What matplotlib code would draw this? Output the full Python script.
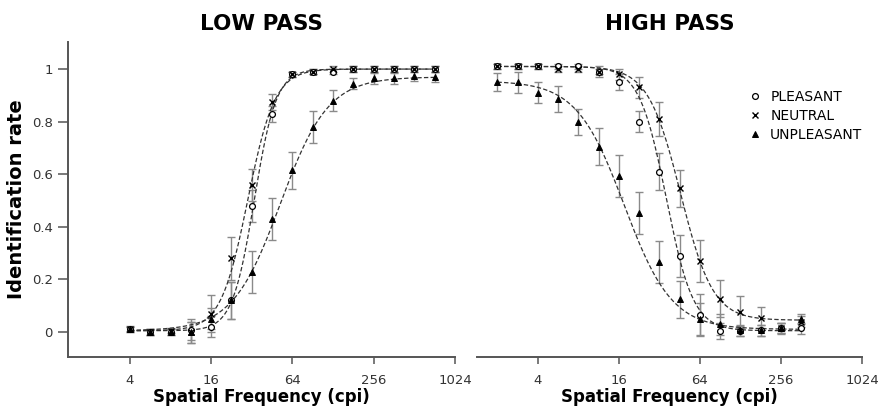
import numpy as np
import matplotlib
matplotlib.use("Agg")
import matplotlib.pyplot as plt
from matplotlib.lines import Line2D

# ---------------- data ----------------
lp_x = [4, 5.66, 8, 11.3, 16, 22.6, 32, 45.3, 64, 90.5, 128, 181, 256, 362, 512, 724]
lp_pleasant = [0.013, 0.0, 0.0, 0.008, 0.02, 0.12, 0.48, 0.83, 0.98, 0.99, 0.99, 1.0, 1.0, 1.0, 1.0, 1.0]
lp_pleasant_err = [0.01, 0.01, 0.01, 0.04, 0.04, 0.07, 0.06, 0.03, 0.01, 0.01, 0.01, 0.01, 0.01, 0.01, 0.01, 0.01]
lp_neutral = [0.01, 0.0, 0.005, 0.0, 0.07, 0.28, 0.56, 0.875, 0.98, 0.99, 1.0, 1.0, 1.0, 1.0, 1.0, 1.0]
lp_neutral_err = [0.01, 0.01, 0.01, 0.04, 0.07, 0.083, 0.06, 0.03, 0.01, 0.01, 0.01, 0.01, 0.01, 0.01, 0.01, 0.01]
lp_unpleasant = [0.01, 0.0, 0.0, 0.0, 0.05, 0.12, 0.23, 0.43, 0.615, 0.78, 0.88, 0.945, 0.965, 0.965, 0.975, 0.97]
lp_unpleasant_err = [0.01, 0.01, 0.01, 0.04, 0.04, 0.07, 0.08, 0.08, 0.07, 0.06, 0.04, 0.02, 0.02, 0.02, 0.02, 0.02]

hp_x = [2, 2.83, 4, 5.66, 8, 11.3, 16, 22.6, 32, 45.3, 64, 90.5, 128, 181, 256, 362]
hp_pleasant = [1.01, 1.01, 1.01, 1.01, 1.01, 0.99, 0.95, 0.80, 0.61, 0.29, 0.065, 0.004, 0.004, 0.006, 0.016, 0.014]
hp_pleasant_err = [0.01, 0.01, 0.01, 0.01, 0.01, 0.02, 0.03, 0.04, 0.07, 0.08, 0.08, 0.03, 0.02, 0.02, 0.02, 0.02]
hp_neutral = [1.01, 1.01, 1.01, 1.0, 1.0, 0.99, 0.98, 0.93, 0.81, 0.547, 0.27, 0.127, 0.076, 0.055, 0.014, 0.04]
hp_neutral_err = [0.01, 0.01, 0.01, 0.01, 0.01, 0.01, 0.02, 0.04, 0.065, 0.07, 0.08, 0.07, 0.06, 0.04, 0.02, 0.02]
hp_unpleasant = [0.95, 0.95, 0.91, 0.885, 0.80, 0.705, 0.595, 0.453, 0.265, 0.125, 0.05, 0.03, 0.006, 0.006, 0.016, 0.05]
hp_unpleasant_err = [0.035, 0.04, 0.04, 0.05, 0.05, 0.07, 0.08, 0.08, 0.08, 0.07, 0.06, 0.04, 0.02, 0.02, 0.02, 0.02]

# fitted psychometric functions: (lower, upper, midpoint log2(cpi), slope per octave)
lp_fit = {"PLEASANT": (0.005, 1.0, 5.06, 3.7),
          "NEUTRAL": (0.005, 1.0, 4.90, 3.0),
          "UNPLEASANT": (0.005, 0.97, 5.70, 1.7)}
hp_fit = {"PLEASANT": (0.005, 1.01, 5.17, -3.0),
          "NEUTRAL": (0.045, 1.01, 5.52, -2.5),
          "UNPLEASANT": (0.01, 0.955, 4.13, -1.7)}

xticks = [4, 16, 64, 256, 1024]
yticks = [0, 0.2, 0.4, 0.6, 0.8, 1]
ytick_labels = ["0", "0.2", "0.4", "0.6", "0.8", "1"]

markers = {"PLEASANT": dict(marker="o", mfc="white", mec="black", ms=4.2, mew=0.9),
           "NEUTRAL": dict(marker="x", mfc="black", mec="black", ms=4.8, mew=1.0),
           "UNPLEASANT": dict(marker="^", mfc="black", mec="black", ms=4.6, mew=0.7)}


def logistic(x, lo, hi, m, k):
    return lo + (hi - lo) / (1 + np.exp(-k * (np.log2(x) - m)))


fig = plt.figure(figsize=(8.79, 4.08), dpi=100)
W, H = 879, 408
axL = fig.add_axes([68 / W, (H - 357) / H, 387 / W, 315 / H])
axR = fig.add_axes([477 / W, (H - 357) / H, 385 / W, 315 / H])

spine_col = "#555555"
err_col = "#8a8a8a"

panels = [
    (axL, lp_x, [("PLEASANT", lp_pleasant, lp_pleasant_err),
                 ("NEUTRAL", lp_neutral, lp_neutral_err),
                 ("UNPLEASANT", lp_unpleasant, lp_unpleasant_err)], lp_fit, "LOW PASS", 1.39),
    (axR, hp_x, [("PLEASANT", hp_pleasant, hp_pleasant_err),
                 ("NEUTRAL", hp_neutral, hp_neutral_err),
                 ("UNPLEASANT", hp_unpleasant, hp_unpleasant_err)], hp_fit, "HIGH PASS", 1.41),
]

for ax, xs, series, fits, title, xmin in panels:
    xx = np.logspace(np.log2(min(xs)), np.log2(max(xs)), 300, base=2)
    for name, ys, es in series:
        ax.errorbar(xs, ys, yerr=es, fmt="none", ecolor=err_col, elinewidth=1.0,
                    capsize=3.2, capthick=1.0, zorder=2)
        lo, hi, m, k = fits[name]
        ax.plot(xx, logistic(xx, lo, hi, m, k), color="#333333", lw=0.9,
                ls=(0, (3.5, 1.8)), zorder=3)
        ax.plot(xs, ys, ls="none", zorder=4, **markers[name])
    ax.set_xscale("log", base=2)
    ax.set_xlim(xmin, 1024)
    ax.set_ylim(-0.095, 1.103)
    ax.set_xticks(xticks)
    ax.set_xticklabels([str(t) for t in xticks])
    ax.minorticks_off()
    ax.spines["top"].set_visible(False)
    ax.spines["right"].set_visible(False)
    ax.spines["bottom"].set_color(spine_col)
    ax.spines["left"].set_color(spine_col)
    ax.spines["bottom"].set_linewidth(1.4)
    ax.spines["left"].set_linewidth(1.4)
    ax.tick_params(axis="x", direction="out", length=5, width=1.1, colors=spine_col,
                   labelcolor="#333333", labelsize=9.5, pad=7)
    ax.set_xlabel("Spatial Frequency (cpi)", fontsize=12, fontweight="bold", labelpad=1)
    ax.set_title(title, fontsize=15.5, fontweight="bold", pad=9)

axL.set_yticks(yticks)
axL.set_yticklabels(ytick_labels)
axL.tick_params(axis="y", direction="out", length=7, width=1.1, colors=spine_col,
                labelcolor="#333333", labelsize=9.5, pad=4)
axL.set_ylabel("Identification rate", fontsize=14, fontweight="bold", labelpad=4)

axR.spines["left"].set_visible(False)
axR.set_yticks([])

handles = [Line2D([], [], ls="none", color="black", **markers[n]) for n in ["PLEASANT", "NEUTRAL", "UNPLEASANT"]]
fig.legend(handles, ["PLEASANT", "NEUTRAL", "UNPLEASANT"], loc="upper left",
           bbox_to_anchor=(741 / W, 1 - 83 / H), frameon=False, fontsize=10,
           handlelength=1.0, handletextpad=0.6, labelspacing=0.35, borderpad=0)

fig.savefig("out.png", dpi=100)
